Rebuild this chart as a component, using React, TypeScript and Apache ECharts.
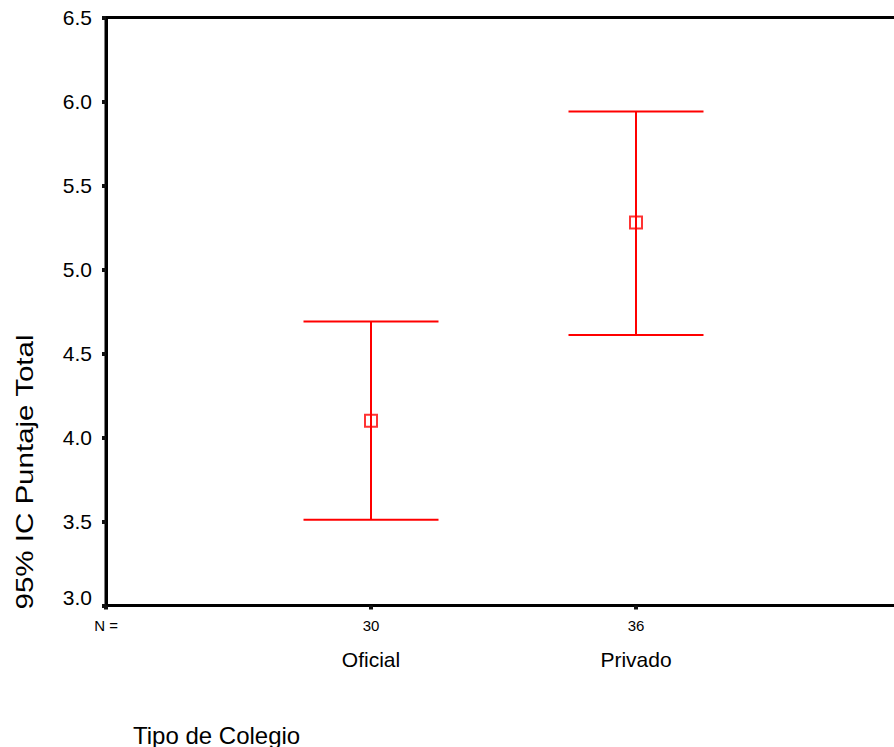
import React, { useEffect, useRef } from "react";
import * as echarts from "echarts";

const categories = ["Oficial", "Privado"];
const nCounts = ["30", "36"];
const means = [4.1, 5.28];
const lowers = [3.51, 4.61];
const uppers = [4.69, 5.94];
const yTicks = [3.0, 3.5, 4.0, 4.5, 5.0, 5.5, 6.0, 6.5];

const RED = "#ff0000";

export default function App() {
  const ref = useRef<HTMLDivElement>(null);
  useEffect(() => {
    if (!ref.current) return;
    const chart = echarts.init(ref.current, undefined, { renderer: "svg" });
    const font = "Liberation Sans, Arial, sans-serif";
    const barData = categories.map((_, i) => [i + 1, lowers[i], uppers[i]]);
    const meanData = categories.map((_, i) => [i + 1, means[i]]);
    chart.setOption({
      animation: false,
      backgroundColor: "#ffffff",
      grid: {
        left: 106,
        top: 17.5,
        width: 795,
        height: 588,
        outerBoundsMode: "none",
        containLabel: false,
        show: true,
        borderColor: "#000",
        borderWidth: 3,
      },
      xAxis: {
        type: "value",
        min: 0,
        max: 3,
        interval: 1,
        splitLine: { show: false },
        axisLine: { show: true, lineStyle: { color: "#000", width: 3 } },
        axisTick: {
          show: true,
          length: 4,
          lineStyle: { color: "#111", width: 4 },
        },
        axisLabel: {
          margin: 10,
          verticalAlign: "top",
          fontFamily: font,
          color: "#000",
          formatter: (v: number) => {
            if (v === 0) return "{n|N =}";
            if (v >= 1 && v <= categories.length)
              return `{n|${nCounts[v - 1]}}\n{c|${categories[v - 1]}}`;
            return "";
          },
          rich: {
            n: { fontSize: 15, lineHeight: 20, fontFamily: font, color: "#000" },
            c: { fontSize: 21, lineHeight: 48, fontFamily: font, color: "#000" },
          },
        },
      },
      yAxis: {
        type: "value",
        min: 3,
        max: 6.5,
        interval: 0.5,
        splitLine: { show: false },
        axisLine: { show: true, lineStyle: { color: "#000", width: 3 } },
        axisTick: {
          show: true,
          length: 4,
          lineStyle: { color: "#111", width: 4 },
        },
        axisLabel: {
          margin: 14,
          fontSize: 21,
          fontFamily: font,
          color: "#000",
          formatter: (v: number) =>
            v === yTicks[0] ? `{b|${v.toFixed(1)}}` : v.toFixed(1),
          rich: {
            b: { fontSize: 21, fontFamily: font, color: "#000", padding: [0, 0, 16, 0] },
          },
        },
      },
      graphic: [
        {
          type: "text",
          x: 25,
          y: 472,
          rotation: Math.PI / 2,
          scaleX: 1.23,
          style: {
            text: "95% IC Puntaje Total",
            fontSize: 24,
            fontFamily: font,
            fill: "#000",
            align: "center",
            verticalAlign: "middle",
          },
        },
        {
          type: "text",
          x: 133,
          y: 735,
          style: {
            text: "Tipo de Colegio",
            fontSize: 24,
            fontFamily: font,
            fill: "#000",
            align: "left",
            verticalAlign: "middle",
          },
        },
      ],
      series: [
        {
          type: "custom",
          data: barData,
          clip: false,
          renderItem: (params: any, api: any) => {
            const x = api.value(0);
            const lo = api.coord([x, api.value(1)]);
            const hi = api.coord([x, api.value(2)]);
            const half = 67.5;
            const style = { stroke: RED, lineWidth: 2 };
            return {
              type: "group",
              children: [
                { type: "line", shape: { x1: lo[0], y1: lo[1], x2: hi[0], y2: hi[1] }, style },
                { type: "line", shape: { x1: hi[0] - half, y1: hi[1], x2: hi[0] + half, y2: hi[1] }, style },
                { type: "line", shape: { x1: lo[0] - half, y1: lo[1], x2: lo[0] + half, y2: lo[1] }, style },
              ],
            };
          },
        },
        {
          type: "scatter",
          data: meanData,
          symbol: "rect",
          symbolSize: 12,
          itemStyle: { color: "rgba(0,0,0,0)", borderColor: RED, borderWidth: 2 },
        },
      ],
    });
    return () => chart.dispose();
  }, []);
  return (
    <div
      ref={ref}
      style={{ position: "fixed", left: 0, top: 0, width: 894, height: 747 }}
    />
  );
}
